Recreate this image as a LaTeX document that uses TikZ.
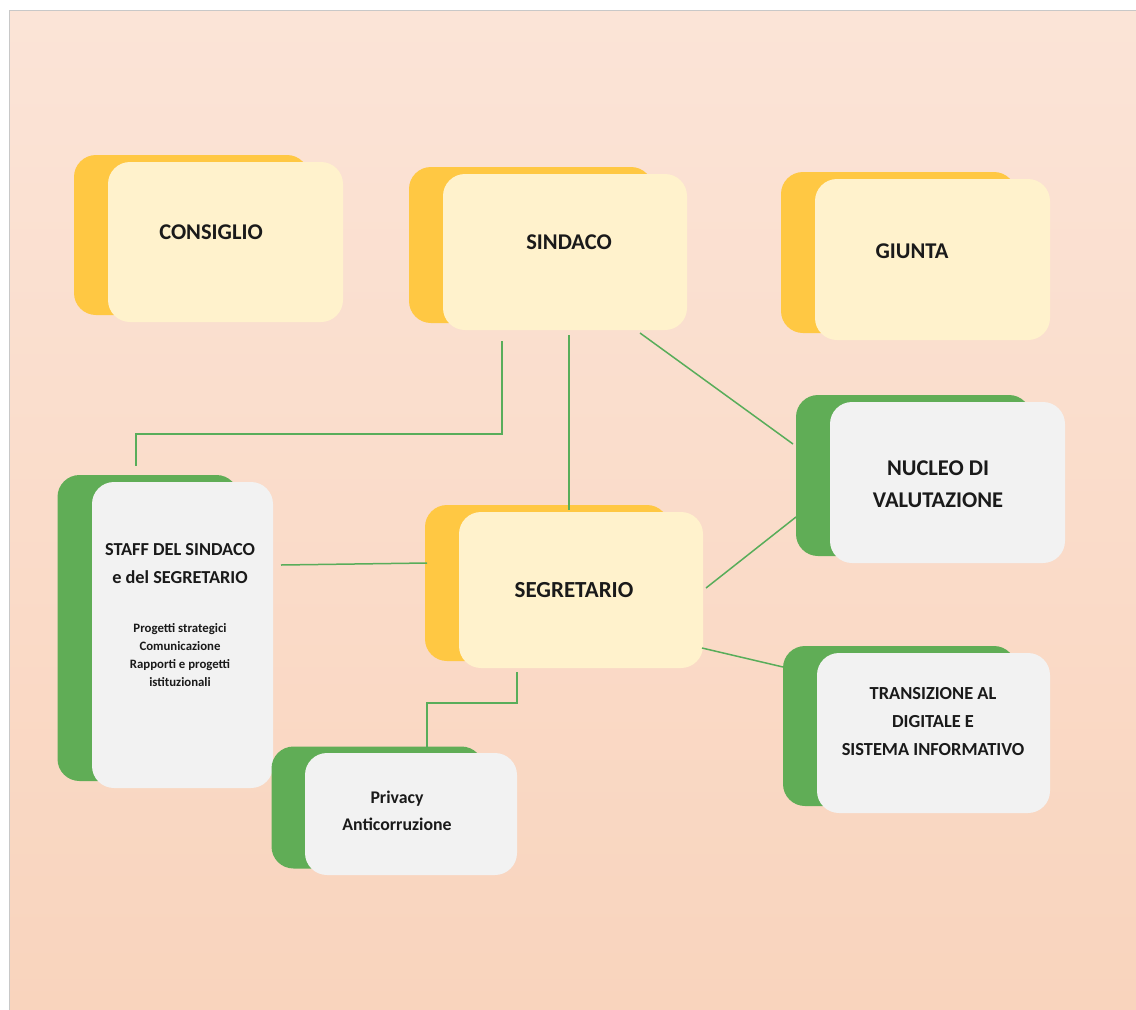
\documentclass[tikz,border=0pt]{standalone}
\usepackage{fontspec}
\setmainfont{Carlito}
\definecolor{bgtop}{HTML}{FBE4D7}
\definecolor{bgbot}{HTML}{F9D4BD}
\definecolor{backyellow}{HTML}{FFC843}
\definecolor{frontyellow}{HTML}{FFF2CC}
\definecolor{backgreen}{HTML}{60AD56}
\definecolor{frontgrey}{HTML}{F2F2F2}
\definecolor{linkgreen}{HTML}{58AD5A}
\definecolor{txt}{HTML}{1A1A1A}
\definecolor{framegrey}{HTML}{C8C8C8}
\tikzset{
  boxbase/.style={draw=none, rounded corners=22pt, inner sep=0pt},
  backy/.style={boxbase, fill=backyellow},
  fronty/.style={boxbase, fill=frontyellow},
  backg/.style={boxbase, fill=backgreen},
  frontg/.style={boxbase, fill=frontgrey},
  label/.style={text=txt, font=\bfseries, align=center, inner sep=0pt},
  link/.style={draw=linkgreen, line width=1.5pt}
}
\begin{document}
\begin{tikzpicture}[x=1pt,y=-1pt]
\useasboundingbox (0pt,0pt) rectangle (1136pt,-1010pt);
\fill[white] (0pt,0pt) rectangle (1136pt,-1010pt);
\shade[top color=bgtop, bottom color=bgbot] (9pt,-10pt) rectangle (1136pt,-1010pt);
\draw[framegrey, line width=0.8pt] (9pt,-1010pt) -- (9pt,-10pt) -- (1136pt,-10pt);

% ---- yellow boxes
\node[backy, minimum width=235, minimum height=160] (consiglio-b) at (191.5,235) {};
\node[fronty, minimum width=235, minimum height=160] (consiglio) at (225.5,242) {};
\node[backy, minimum width=244, minimum height=156] (sindaco-b) at (531,245) {};
\node[fronty, minimum width=244, minimum height=156] (sindaco) at (565,252) {};
\node[backy, minimum width=235, minimum height=161] (giunta-b) at (898.5,252.5) {};
\node[fronty, minimum width=235, minimum height=161] (giunta) at (932.5,259.5) {};
\node[backy, minimum width=244, minimum height=156] (segretario-b) at (547,583) {};
\node[fronty, minimum width=244, minimum height=156] (segretario) at (581,590) {};

% ---- green/grey boxes
\node[backg, minimum width=235, minimum height=161] (nucleo-b) at (913.5,475.5) {};
\node[frontg, minimum width=235, minimum height=161] (nucleo) at (947.5,482.5) {};
\node[backg, minimum width=181, minimum height=306] (staff-b) at (148,628) {};
\node[frontg, minimum width=181, minimum height=306] (staff) at (182.5,635) {};
\node[backg, minimum width=212, minimum height=122] (privacy-b) at (377.5,807.5) {};
\node[frontg, minimum width=212, minimum height=122] (privacy) at (411,814) {};
\node[backg, minimum width=233, minimum height=160] (transizione-b) at (899.5,726) {};
\node[frontg, minimum width=233, minimum height=160] (transizione) at (933.5,733) {};

% ---- texts
\node[label, font=\fontsize{22.5}{26}\selectfont\bfseries] (t-consiglio) at (211,232) {CONSIGLIO};
\node[label, font=\fontsize{22.5}{26}\selectfont\bfseries] (t-sindaco) at (569,242) {SINDACO};
\node[label, font=\fontsize{22.5}{26}\selectfont\bfseries] (t-giunta) at (912,251) {GIUNTA};
\node[label, font=\fontsize{23}{26}\selectfont\bfseries] (t-segretario) at (574,590) {SEGRETARIO};
\node[label, font=\fontsize{22.5}{32}\selectfont\bfseries] (t-nucleo) at (938,484) {NUCLEO DI\\VALUTAZIONE};
\node[label, font=\fontsize{18.3}{28}\selectfont\bfseries] (t-staff) at (180,564) {STAFF DEL SINDACO\\e del SEGRETARIO};
\node[label, font=\fontsize{12.8}{18}\selectfont\bfseries] (t-staff2) at (180,655) {Progetti strategici\\Comunicazione\\Rapporti e progetti\\istituzionali};
\node[label, font=\fontsize{17.8}{27}\selectfont\bfseries] (t-privacy) at (397,811) {Privacy\\Anticorruzione};
\node[label, font=\fontsize{18.4}{28}\selectfont\bfseries] (t-transizione) at (933,722) {TRANSIZIONE AL\\DIGITALE E\\SISTEMA INFORMATIVO};

% ---- connector end points
\coordinate (c-sind-staff) at (502,341);
\coordinate (c-staff-top) at (136,466);
\coordinate (c-sind-seg) at (569,335);
\coordinate (c-seg-top) at (569,510);
\coordinate (c-sind-nuc) at (640,333);
\coordinate (c-nuc-a) at (793,444);
\coordinate (c-staff-seg) at (281,565);
\coordinate (c-seg-left) at (427,563);
\coordinate (c-seg-nuc) at (706,588);
\coordinate (c-nuc-b) at (796,517);
\coordinate (c-seg-tra) at (702,648);
\coordinate (c-tra) at (783,667);
\coordinate (c-seg-bot) at (517,672);
\coordinate (c-priv-top) at (427,748);

% ---- connectors
\draw[link] (c-sind-staff) -- (502,434) -- (136,434) -- (c-staff-top);
\draw[link] (c-sind-seg) -- (c-seg-top);
\draw[link] (c-sind-nuc) -- (c-nuc-a);
\draw[link] (c-staff-seg) -- (c-seg-left);
\draw[link] (c-seg-nuc) -- (c-nuc-b);
\draw[link] (c-seg-tra) -- (c-tra);
\draw[link] (c-seg-bot) -- (517,703) -- (427,703) -- (c-priv-top);
\end{tikzpicture}
\end{document}
